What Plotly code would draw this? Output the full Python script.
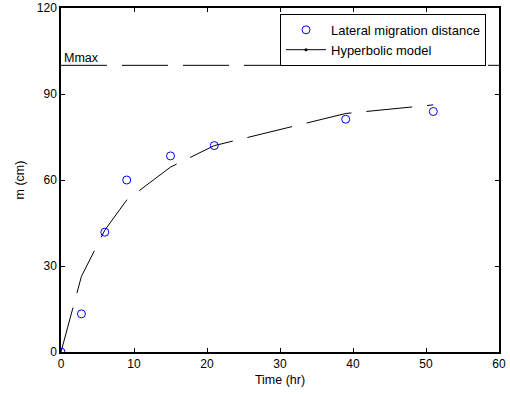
import plotly.graph_objects as go

time_obs = [0, 2.8, 6, 9, 15, 21, 39, 51]
m_obs = [0, 13.3, 41.8, 60, 68.4, 72, 81.2, 83.9]

time_model = [0, 2.8, 6, 9, 15, 21, 39, 51]
m_model = [0, 26.4, 42.5, 53, 64.5, 72, 83.2, 86.2]

mmax_x = [0, 60]
mmax_y = [100, 100]

x_ticks = [0, 10, 20, 30, 40, 50, 60]
y_ticks = [0, 30, 60, 90, 120]

FONT = "Liberation Sans, Arial, sans-serif"
DASH = "46px,15px"

fig = go.Figure()

fig.add_trace(go.Scatter(
    x=mmax_x, y=mmax_y, mode="lines",
    line=dict(color="black", width=1, dash=DASH),
    showlegend=False, hoverinfo="skip"))

fig.add_trace(go.Scatter(
    x=time_model, y=m_model, mode="lines",
    line=dict(color="black", width=1, dash=DASH),
    showlegend=False))

fig.add_trace(go.Scatter(
    x=time_obs, y=m_obs, mode="markers",
    marker=dict(symbol="circle-open", size=8, color="#0000ff", line=dict(width=1, color="#0000ff")),
    name="Lateral migration distance"))

fig.add_trace(go.Scatter(
    x=[None], y=[None], mode="lines+markers",
    line=dict(color="black", width=1),
    marker=dict(symbol="circle", size=3, color="black"),
    name="Hyperbolic model"))

fig.add_annotation(x=0.2, y=100, xref="x", yref="y", text="Mmax",
                   showarrow=False, xanchor="left", yanchor="bottom",
                   font=dict(family=FONT, size=12.5, color="black"), yshift=-2)

axis_common = dict(
    showgrid=False, zeroline=False, showline=True, linecolor="black", linewidth=1.5,
    mirror="allticks", ticks="inside", ticklen=4, tickcolor="black", automargin=False,
    tickfont=dict(family=FONT, size=12, color="black"))

fig.update_xaxes(range=[0, 60], tickvals=x_ticks, ticktext=[str(v) for v in x_ticks],
                 title=dict(text="Time (hr)", font=dict(family=FONT, size=12.5, color="black"), standoff=5),
                 **axis_common)
fig.update_yaxes(range=[0, 120], tickvals=y_ticks, ticktext=[str(v) for v in y_ticks],
                 title=dict(text="m (cm)", font=dict(family=FONT, size=12.5, color="black"), standoff=9),
                 **axis_common)

fig.update_layout(
    width=510, height=394,
    margin=dict(l=61, r=11, t=8, b=42),
    plot_bgcolor="white", paper_bgcolor="white",
    font=dict(family=FONT, size=12, color="black"),
    legend=dict(x=0.5, y=0.983, xanchor="left", yanchor="top",
                bordercolor="black", borderwidth=1, bgcolor="white",
                font=dict(family=FONT, size=13, color="black"),
                tracegroupgap=0, itemwidth=40),
)

fig.write_html("out.html")
